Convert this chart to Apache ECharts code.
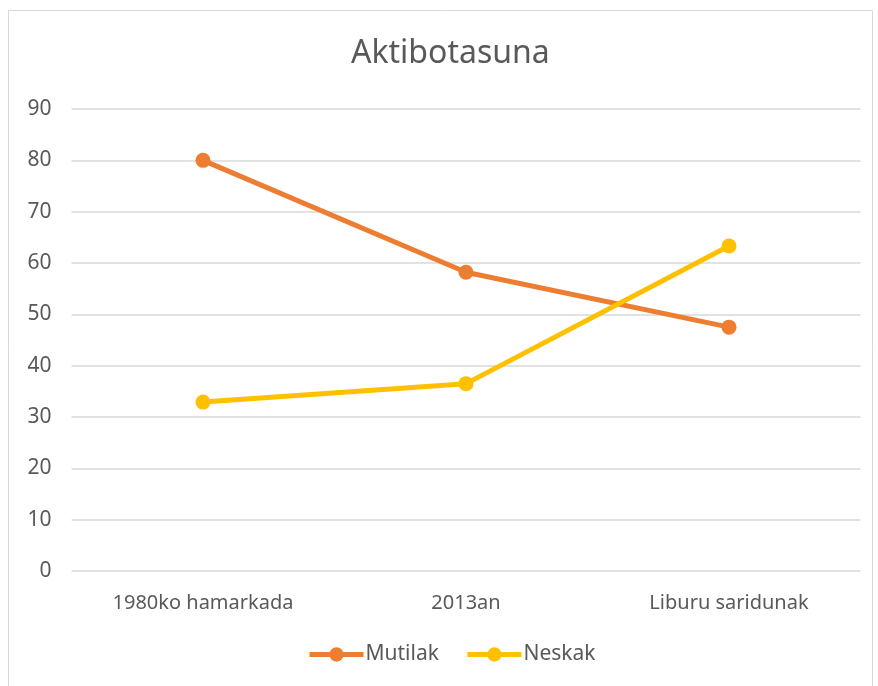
<!DOCTYPE html>
<html>
<head>
<meta charset="utf-8">
<script src="https://cdn.jsdelivr.net/npm/echarts@6/dist/echarts.min.js"></script>
<style>
  html, body { margin: 0; padding: 0; background: #fff; }
  #chart { width: 878px; height: 686px; }
</style>
</head>
<body>
<div id="chart"></div>
<script>
    var categories = ['1980ko hamarkada', '2013an', 'Liburu saridunak'];
    var mutilak = [80, 58.2, 47.5];
    var neskak = [32.9, 36.5, 63.3];
    var yTicks = [0, 10, 20, 30, 40, 50, 60, 70, 80, 90];

    var myChart = echarts.init(document.getElementById('chart'));
    var fontName = 'Noto Sans, sans-serif';

    var option = {
        backgroundColor: '#fff',
        animation: false,
        graphic: [{
            type: 'rect',
            shape: { x: 8.5, y: 10.5, width: 864, height: 690 },
            style: { fill: 'none', stroke: '#d9d9d9', lineWidth: 1 },
            silent: true
        }],
        title: {
            text: 'Aktibotasuna',
            left: 346,
            top: 33,
            textStyle: {
                color: '#595959',
                fontFamily: fontName,
                fontWeight: 'normal',
                fontSize: 32
            }
        },
        legend: {
            bottom: 16,
            left: 302,
            itemWidth: 54,
            itemHeight: 18,
            itemGap: 26,
            lineStyle: { width: 5 },
            textStyle: { color: '#595959', fontFamily: fontName, fontSize: 21, padding: [0, 0, 0, -3] },
            data: ['Mutilak', 'Neskak']
        },
        grid: {
            left: 71.5,
            right: 17.5,
            top: 109,
            bottom: 115
        },
        xAxis: {
            type: 'category',
            data: categories,
            axisLine: { show: false },
            axisTick: { show: false },
            axisLabel: {
                color: '#595959',
                fontFamily: fontName,
                fontSize: 20,
                margin: 22
            }
        },
        yAxis: {
            type: 'value',
            min: yTicks[0],
            max: yTicks[yTicks.length - 1],
            interval: 10,
            axisLine: { show: false },
            axisTick: { show: false },
            axisLabel: {
                color: '#595959',
                fontFamily: fontName,
                fontSize: 21,
                margin: 20
            },
            splitLine: { lineStyle: { color: '#d9d9d9', width: 1.5 } }
        },
        series: [{
            name: 'Mutilak',
            type: 'line',
            data: mutilak,
            symbol: 'circle',
            symbolSize: 15,
            lineStyle: { width: 5, color: '#ed7d31' },
            itemStyle: { color: '#ed7d31' }
        }, {
            name: 'Neskak',
            type: 'line',
            data: neskak,
            symbol: 'circle',
            symbolSize: 15,
            lineStyle: { width: 5, color: '#ffc000' },
            itemStyle: { color: '#ffc000' }
        }]
    };
    myChart.setOption(option);
</script>
</body>
</html>
